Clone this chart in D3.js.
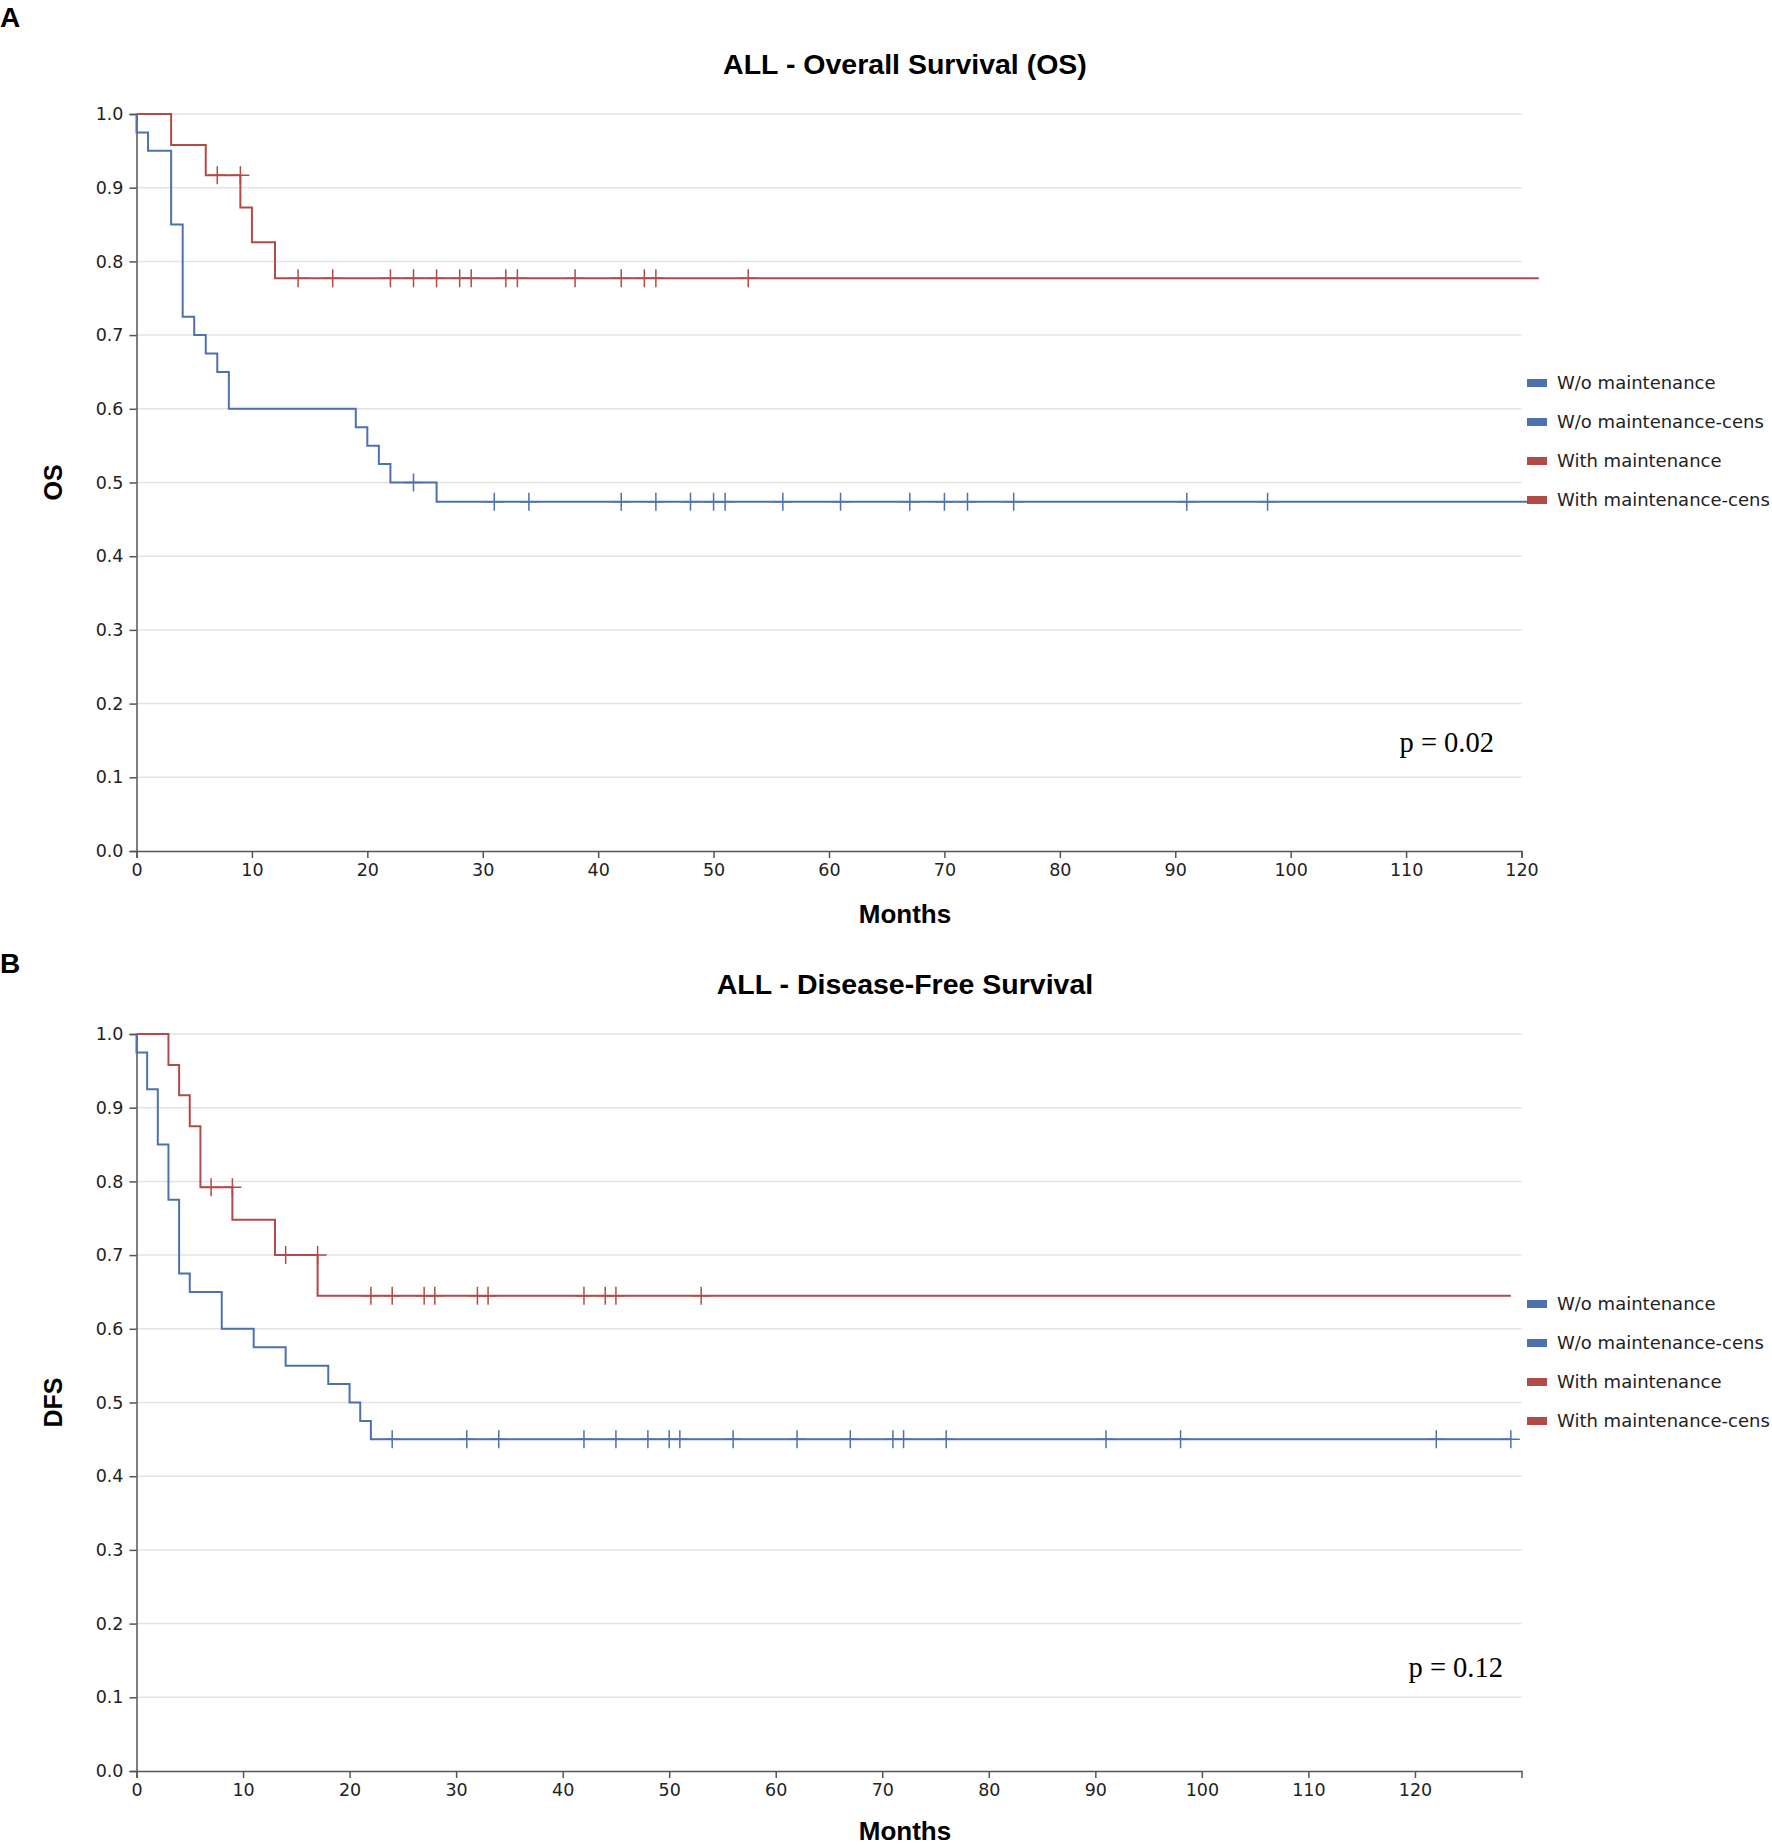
<!DOCTYPE html>
<html>
<head>
<meta charset="utf-8">
<script src="https://cdn.jsdelivr.net/npm/d3@7"></script>
<style>
  body { margin: 0; background: #fff; }
  svg { display: block; }
</style>
</head>
<body>
<div id="chart"></div>
<script>
// Legend / group names
const groups = ['W/o maintenance', 'With maintenance'];
const legendLabels = ['W/o maintenance', 'W/o maintenance-cens', 'With maintenance', 'With maintenance-cens'];

// Overall survival - without maintenance
const osWithoutTimes = [0, 1, 3, 4, 5, 6, 7, 8, 19, 20, 21, 22, 26];
const osWithoutSurv = [0.975, 0.95, 0.85, 0.725, 0.70, 0.675, 0.65, 0.60, 0.575, 0.55, 0.525, 0.50, 0.474];
const osWithoutCens = [24, 31, 34, 42, 45, 48, 50, 51, 56, 61, 67, 70, 72, 76, 91, 98];

// Overall survival - with maintenance
const osWithTimes = [3, 6, 9, 10, 12];
const osWithSurv = [0.958, 0.917, 0.873, 0.826, 0.777];
const osWithCens = [7, 9, 14, 17, 22, 24, 26, 28, 29, 32, 33, 38, 42, 44, 45, 53];

const osLastFollowUp = [121.5, 121.5];

// Disease-free survival - without maintenance
const dfsWithoutTimes = [0, 1, 2, 3, 4, 5, 8, 11, 14, 18, 20, 21, 22];
const dfsWithoutSurv = [0.975, 0.925, 0.85, 0.775, 0.675, 0.65, 0.60, 0.575, 0.55, 0.525, 0.50, 0.475, 0.45];
const dfsWithoutCens = [24, 31, 34, 42, 45, 48, 50, 51, 56, 62, 67, 71, 72, 76, 91, 98, 122, 129];

// Disease-free survival - with maintenance
const dfsWithTimes = [3, 4, 5, 6, 9, 13, 17];
const dfsWithSurv = [0.958, 0.917, 0.875, 0.792, 0.748, 0.70, 0.645];
const dfsWithCens = [7, 9, 14, 17, 22, 24, 27, 28, 32, 33, 42, 44, 45, 53];

const dfsLastFollowUp = [129, 129];

// Axis ticks
const xTicks = [0, 10, 20, 30, 40, 50, 60, 70, 80, 90, 100, 110, 120];
const yTicks = [0, 0.1, 0.2, 0.3, 0.4, 0.5, 0.6, 0.7, 0.8, 0.9, 1.0];

const width = 1772;
const height = 1845;
const colors = ['#4d71ad', '#b24a46'];

const svg = d3.select('#chart')
  .append('svg')
  .attr('width', width)
  .attr('height', height)
  .style('font-family', '"DejaVu Sans", Verdana, sans-serif');

function drawPanel(p) {
  const x = d3.scaleLinear().domain([0, p.xMax]).range([136.5, 1521.5]);
  const y = d3.scaleLinear().domain([0, 1]).range([p.bottom, p.top]);

  const g = svg.append('g');

  // panel letter + title
  g.append('text')
    .attr('x', 0).attr('y', p.letterY)
    .style('font-family', '"Liberation Sans", Arial, sans-serif')
    .style('font-weight', 'bold').style('font-size', '28px')
    .text(p.letter);

  g.append('text')
    .attr('x', 905).attr('y', p.top - 40)
    .attr('text-anchor', 'middle')
    .style('font-family', '"Liberation Sans", Arial, sans-serif')
    .style('font-weight', 'bold').style('font-size', '28.5px')
    .text(p.title);

  // horizontal grid
  g.append('g')
    .selectAll('line')
    .data(yTicks.slice(1))
    .enter()
    .append('line')
    .attr('x1', x(0)).attr('x2', x(p.xMax))
    .attr('y1', d => y(d)).attr('y2', d => y(d))
    .attr('stroke', '#e3e3e3')
    .attr('stroke-width', 1.5);

  // axes
  const xAxis = g.append('g')
    .attr('transform', `translate(0,${p.bottom})`)
    .call(d3.axisBottom(x).tickValues(xTicks).tickFormat(d3.format('d')).tickSize(7).tickPadding(6));

  const yAxis = g.append('g')
    .attr('transform', `translate(${x(0)},0)`)
    .call(d3.axisLeft(y).tickValues(yTicks).tickFormat(d3.format('.1f')).tickSize(7).tickPadding(6));

  [xAxis, yAxis].forEach(a => {
    a.selectAll('path, line').attr('stroke', '#555').attr('stroke-width', 1.5);
    a.selectAll('text').attr('fill', '#222').style('font-size', '17.5px')
      .style('font-family', '"DejaVu Sans", Verdana, sans-serif');
  });

  // axis titles
  g.append('text')
    .attr('x', 905).attr('y', p.bottom + p.monthsGap)
    .attr('text-anchor', 'middle')
    .style('font-family', '"Liberation Sans", Arial, sans-serif')
    .style('font-weight', 'bold').style('font-size', '26px')
    .text('Months');

  g.append('text')
    .attr('transform', `translate(62,${(p.top + p.bottom) / 2}) rotate(-90)`)
    .attr('text-anchor', 'middle')
    .style('font-family', '"Liberation Sans", Arial, sans-serif')
    .style('font-weight', 'bold').style('font-size', '25px')
    .text(p.yLabel);

  // survival curves (step after)
  const line = d3.line()
    .x(d => x(d[0]))
    .y(d => y(d[1]))
    .curve(d3.curveStepAfter);

  p.series.forEach((s, i) => {
    const pts = [[0, 1]].concat(s.times.map((t, j) => [t, s.surv[j]]));
    pts.push([s.end, s.surv[s.surv.length - 1]]);

    g.append('path')
      .datum(pts)
      .attr('fill', 'none')
      .attr('stroke', colors[i])
      .attr('stroke-width', 2)
      .attr('d', line);

    // level just before t (censor at an event time sits on the upper step)
    const levelAt = t => {
      let v = 1;
      s.times.forEach((tt, j) => { if (tt < t) v = s.surv[j]; });
      return v;
    };

    g.append('g')
      .selectAll('path')
      .data(s.cens)
      .enter()
      .append('path')
      .attr('d', d => {
        const cx = x(d);
        const cy = y(levelAt(d));
        return `M${cx - 9},${cy}H${cx + 9}M${cx},${cy - 9}V${cy + 9}`;
      })
      .attr('fill', 'none')
      .attr('stroke', colors[i])
      .attr('stroke-width', 1.5);
  });

  // p value
  g.append('text')
    .attr('x', p.pX).attr('y', y(p.pLevel))
    .attr('text-anchor', 'end')
    .style('font-family', '"Liberation Serif", "Times New Roman", serif')
    .style('font-size', '28.5px')
    .text(p.pValue);

  // legend
  const legend = g.append('g')
    .selectAll('g')
    .data(legendLabels)
    .enter()
    .append('g')
    .attr('transform', (d, i) => `translate(1527,${p.legendTop + i * 39})`);

  legend.append('rect')
    .attr('x', 0).attr('y', -4)
    .attr('width', 20).attr('height', 8)
    .attr('fill', (d, i) => colors[Math.floor(i / 2)]);

  legend.append('text')
    .attr('x', 30).attr('dy', '0.36em')
    .attr('fill', '#222')
    .style('font-size', '18px')
    .text(d => d);
}

drawPanel({
  letter: 'A',
  letterY: 27,
  title: 'ALL - Overall Survival (OS)',
  yLabel: 'OS',
  pValue: 'p = 0.02',
  pX: 1494,
  pLevel: 0.135,
  xMax: 120,
  top: 114,
  bottom: 851,
  monthsGap: 72,
  legendTop: 383,
  series: [
    { times: osWithoutTimes, surv: osWithoutSurv, cens: osWithoutCens, end: osLastFollowUp[0] },
    { times: osWithTimes, surv: osWithSurv, cens: osWithCens, end: osLastFollowUp[1] }
  ]
});

drawPanel({
  letter: 'B',
  letterY: 973,
  title: 'ALL - Disease-Free Survival',
  yLabel: 'DFS',
  pValue: 'p = 0.12',
  pX: 1503,
  pLevel: 0.128,
  xMax: 130,
  top: 1034,
  bottom: 1771,
  monthsGap: 69,
  legendTop: 1304,
  series: [
    { times: dfsWithoutTimes, surv: dfsWithoutSurv, cens: dfsWithoutCens, end: dfsLastFollowUp[0] },
    { times: dfsWithTimes, surv: dfsWithSurv, cens: dfsWithCens, end: dfsLastFollowUp[1] }
  ]
});
</script>
</body>
</html>
